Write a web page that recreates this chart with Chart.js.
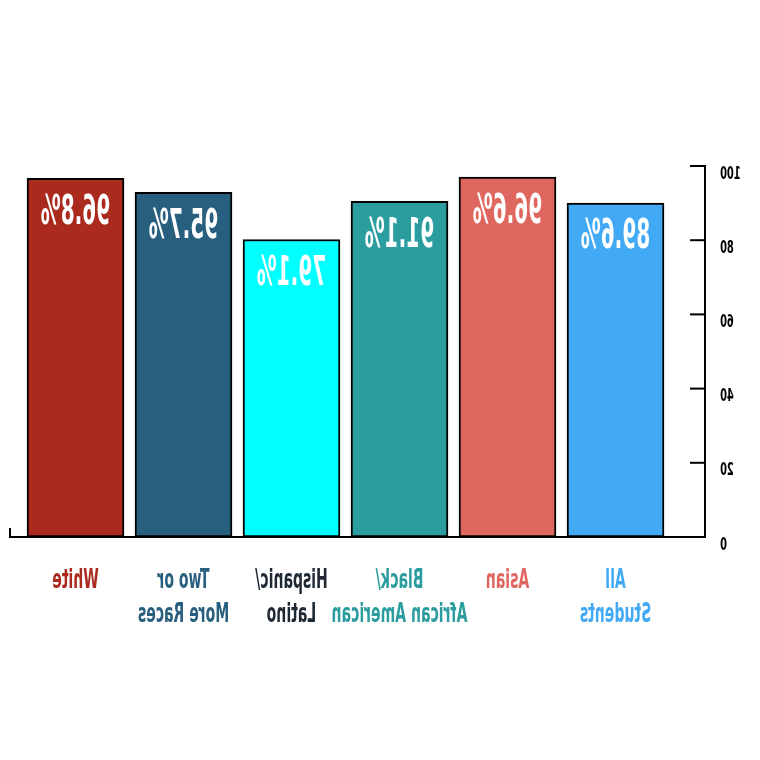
<!DOCTYPE html>
<html>
<head>
<meta charset="utf-8">
<script src="https://cdn.jsdelivr.net/npm/chart.js@4"></script>
<style>
  html, body { margin: 0; padding: 0; background: #fff; }
  #wrap { width: 760px; height: 760px; }
  /* the reference is drawn mirrored left-to-right */
  #chart { transform: scaleX(-1); }
</style>
</head>
<body>
<div id="wrap"><canvas id="chart" width="760" height="760"></canvas></div>
<script>
const categories = [["All", "Students"], ["Asian"], ["Black/", "African American"], ["Hispanic/", "Latino"], ["Two or", "More Races"], ["White"]];
// bar heights as drawn and the percentages printed on them
const barHeights = [90.0, 97.0, 90.5, 80.2, 92.9, 96.7];
const rateLabels = ["89.6%", "96.6%", "91.1%", "79.1%", "95.7%", "96.8%"];
const barColors = ["#42A9F5", "#E0675F", "#2C9D9F", "#00FFFF", "#285E7E", "#AA2A1E"];
const labelColors = ["#42A9F5", "#E0675F", "#2C9D9F", "#1F2933", "#285E7E", "#AA2A1E"];
const yTicks = [0, 20, 40, 60, 80, 100];

const FONT = "'DejaVu Sans', sans-serif";

// draw text squeezed horizontally, to imitate the narrow face of the original
function narrowText(ctx, text, x, y, size, squeeze, color, align) {
  ctx.save();
  ctx.fillStyle = color;
  ctx.font = "bold " + size + "px " + FONT;
  ctx.textAlign = align || "center";
  ctx.textBaseline = "middle";
  ctx.translate(x, y);
  ctx.scale(squeeze, 1);
  ctx.fillText(text, 0, 0);
  ctx.restore();
}

// inward tick marks, tick labels, category labels, end tick on the baseline
const axisMarks = {
  id: "axisMarks",
  afterDraw(chart) {
    const ctx = chart.ctx;
    const x = chart.scales.x;
    const y = chart.scales.y;
    const area = chart.chartArea;
    ctx.save();
    ctx.strokeStyle = "#000";
    ctx.lineWidth = 2;
    yTicks.forEach(function (v) {
      const py = y.getPixelForValue(v);
      ctx.beginPath();
      ctx.moveTo(area.left, py);
      ctx.lineTo(area.left + 15, py);
      ctx.stroke();
    });
    ctx.beginPath();
    ctx.moveTo(area.right, area.bottom);
    ctx.lineTo(area.right, area.bottom - 9);
    ctx.stroke();
    ctx.restore();

    yTicks.forEach(function (v) {
      narrowText(ctx, String(v), area.left - 15, y.getPixelForValue(v) + 8, 18, 0.55, "#000", "right");
    });

    categories.forEach(function (lines, i) {
      const px = x.getPixelForValue(i + 1);
      lines.forEach(function (line, j) {
        narrowText(ctx, line, px, area.bottom + 44 + j * 34, 27, 0.52, labelColors[i]);
      });
    });
  }
};

// percentage inside the top of each bar
const barLabels = {
  id: "barLabels",
  afterDatasetsDraw(chart) {
    const meta = chart.getDatasetMeta(0);
    meta.data.forEach(function (bar, i) {
      narrowText(chart.ctx, rateLabels[i], bar.x, bar.y + 35, 40, 0.5, "#fff");
    });
  }
};

new Chart(document.getElementById("chart"), {
  type: "bar",
  data: {
    datasets: [{
      data: barHeights.map(function (v, i) { return { x: i + 1, y: v }; }),
      backgroundColor: barColors,
      borderColor: "#000",
      borderWidth: 2,
      borderSkipped: false,
      barThickness: 97
    }]
  },
  options: {
    responsive: false,
    animation: false,
    layout: { padding: { top: 166, right: 10, left: 0, bottom: 0 } },
    plugins: { legend: { display: false }, tooltip: { enabled: false } },
    scales: {
      x: {
        type: "linear",
        offset: false,
        min: 0.1713,
        max: 6.6065,
        afterFit: function (scale) { scale.height = 223; },
        grid: { display: false, drawTicks: false },
        border: { display: true, color: "#000", width: 2 },
        ticks: { display: false }
      },
      y: {
        min: 0,
        max: 100,
        afterFit: function (scale) { scale.width = 55; },
        grid: { display: false, drawTicks: false },
        border: { display: true, color: "#000", width: 2 },
        ticks: { display: false }
      }
    }
  },
  plugins: [axisMarks, barLabels]
});
</script>
</body>
</html>
